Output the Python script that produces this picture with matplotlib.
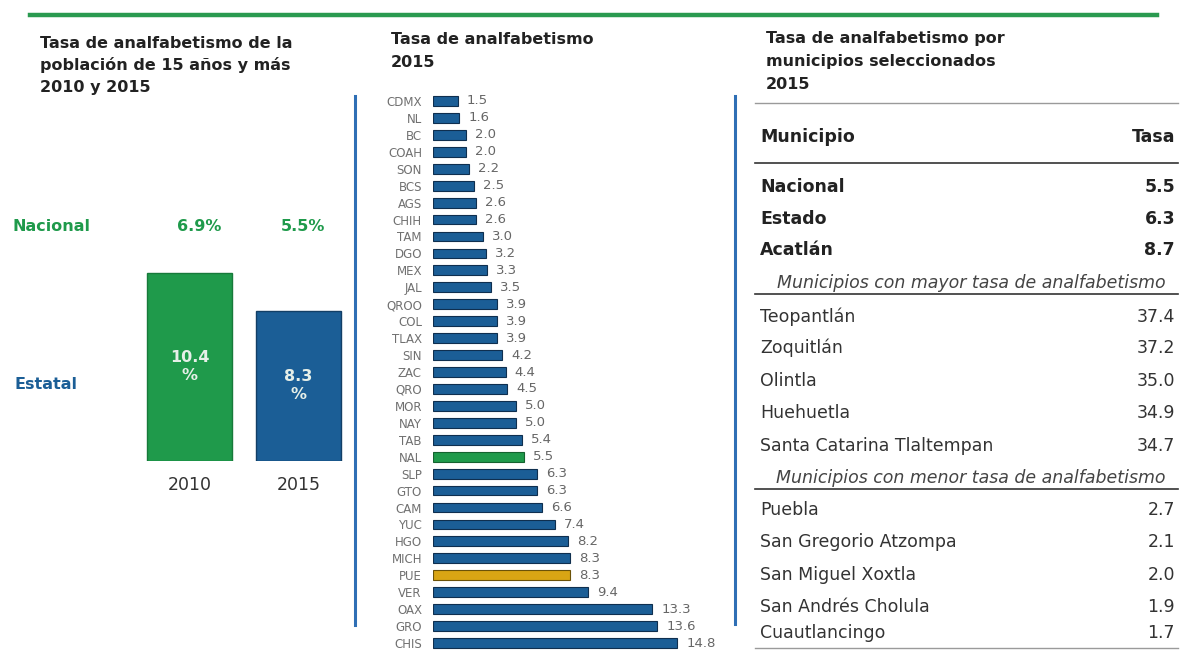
import numpy as np
import matplotlib
matplotlib.use('Agg')
import matplotlib.pyplot as plt
from matplotlib.lines import Line2D

plt.rcParams['font.family'] = ['DejaVu Sans']

# --- data -------------------------------------------------------------
years = ['2010', '2015']
estatal = [10.4, 8.3]
nacional = [6.9, 5.5]

states = ['CDMX', 'NL', 'BC', 'COAH', 'SON', 'BCS', 'AGS', 'CHIH', 'TAM', 'DGO',
          'MEX', 'JAL', 'QROO', 'COL', 'TLAX', 'SIN', 'ZAC', 'QRO', 'MOR', 'NAY',
          'TAB', 'NAL', 'SLP', 'GTO', 'CAM', 'YUC', 'HGO', 'MICH', 'PUE', 'VER',
          'OAX', 'GRO', 'CHIS']
state_rates = [1.5, 1.6, 2.0, 2.0, 2.2, 2.5, 2.6, 2.6, 3.0, 3.2,
               3.3, 3.5, 3.9, 3.9, 3.9, 4.2, 4.4, 4.5, 5.0, 5.0,
               5.4, 5.5, 6.3, 6.3, 6.6, 7.4, 8.2, 8.3, 8.3, 9.4,
               13.3, 13.6, 14.8]

ref_names = ['Nacional', 'Estado', 'Acatlán']
ref_rates = [5.5, 6.3, 8.7]
high_names = ['Teopantlán', 'Zoquitlán', 'Olintla', 'Huehuetla', 'Santa Catarina Tlaltempan']
high_rates = [37.4, 37.2, 35.0, 34.9, 34.7]
low_names = ['Puebla', 'San Gregorio Atzompa', 'San Miguel Xoxtla', 'San Andrés Cholula', 'Cuautlancingo']
low_rates = [2.7, 2.1, 2.0, 1.9, 1.7]

GREEN = '#1f9a4b'
BLUE = '#1b5e96'
GOLD = '#d9a514'
LINE_BLUE = '#2f6fb5'
DARK = '#222222'
TXT = '#333333'

W, H = 1185, 651
fig = plt.figure(figsize=(W / 100, H / 100), dpi=100)


def fx(x):
    return x / W


def fy(y):
    return 1 - y / H


def rect(left, top, right, bottom):
    return [fx(left), fy(bottom), (right - left) / W, (bottom - top) / H]


def hline(x0, x1, y, color, lw):
    fig.add_artist(Line2D([fx(x0), fx(x1)], [fy(y), fy(y)], color=color, lw=lw,
                          transform=fig.transFigure))


def vline(x, y0, y1, color, lw):
    fig.add_artist(Line2D([fx(x), fx(x)], [fy(y0), fy(y1)], color=color, lw=lw,
                          transform=fig.transFigure))


def text(x, y, s, **kw):
    kw.setdefault('va', 'baseline')
    return fig.text(fx(x), fy(y), s, **kw)


def title(x, baselines, lines):
    for y, s in zip(baselines, lines):
        text(x, y, s, fontsize=11.5, fontweight='bold', color=DARK)


# top rule and separators
hline(30, 1157, 15, '#2a9a50', 3.2)
vline(355, 96, 625, LINE_BLUE, 2.2)
vline(735, 96, 624, LINE_BLUE, 2.2)

# --- left panel: state vs national --------------------------------------
title(40, [48, 70, 92], ['Tasa de analfabetismo de la', 'población de 15 años y más', '2010 y 2015'])
text(12, 231, 'Nacional', fontsize=11.5, fontweight='bold', color=GREEN)
text(15, 389, 'Estatal', fontsize=11.5, fontweight='bold', color=BLUE)

ax1 = fig.add_axes(rect(130, 244, 360, 461))
xpos = np.arange(len(years))
bars = ax1.bar(xpos, estatal, width=0.78, color=[GREEN, BLUE],
               edgecolor=['#177a3a', '#123f66'], lw=1)
ax1.set_xlim(-0.546, 1.564)
ax1.set_ylim(0, 12)
for b, v in zip(bars, estatal):
    ax1.text(b.get_x() + b.get_width() / 2, v / 2, f'{v}\n%', ha='center', va='center',
             color='#e6efe8', fontsize=11.5, fontweight='bold', linespacing=1.25)
for x, v, dx in zip(xpos, nacional, [10, 4]):
    ax1.annotate(f'{v}%', (x, 12), xytext=(dx, 13), textcoords='offset pixels',
                 ha='center', va='baseline', color=GREEN, fontsize=11.5,
                 fontweight='bold', annotation_clip=False)
ax1.set_xticks(xpos, years)
ax1.tick_params(axis='x', length=0, pad=11, labelsize=12.5, labelcolor=TXT)
ax1.set_yticks([])
for s in ax1.spines.values():
    s.set_visible(False)

# --- middle panel: states ------------------------------------------------
title(391, [44, 67], ['Tasa de analfabetismo', '2015'])

ax2 = fig.add_axes(rect(433, 92.5, 720, 651.5))
ypos = np.arange(len(states))
colors = [GREEN if s == 'NAL' else GOLD if s == 'PUE' else BLUE for s in states]
edges = ['#14622f' if s == 'NAL' else '#6b5208' if s == 'PUE' else '#0f2f4f' for s in states]
ax2.barh(ypos, state_rates, height=0.58, color=colors, edgecolor=edges, lw=0.8)
ax2.set_xlim(0, 287 / 16.5)
ax2.set_ylim(len(states) - 0.5, -0.5)
for y, v in zip(ypos, state_rates):
    ax2.annotate(f'{v:.1f}', (v, y), xytext=(6.5, 0), textcoords='offset points',
                 va='center', ha='left', fontsize=9.5, color='#666666')
ax2.set_yticks(ypos, states)
ax2.tick_params(axis='y', length=0, pad=8, labelsize=8.5, labelcolor='#707070')
ax2.set_xticks([])
for s in ax2.spines.values():
    s.set_visible(False)

# --- right panel: municipalities table ----------------------------------
title(766, [43, 66, 89], ['Tasa de analfabetismo por', 'municipios seleccionados', '2015'])

TL, TR, TC = 760, 1175, 971
FS = 12.5
hline(755, 1178, 103, '#9a9a9a', 1.0)
text(TL, 142, 'Municipio', fontsize=FS, fontweight='bold', color=DARK)
text(TR, 142, 'Tasa', fontsize=FS, fontweight='bold', color=DARK, ha='right')
hline(755, 1178, 163, '#333333', 1.2)

for name, v, y in zip(ref_names, ref_rates, [192, 224, 255]):
    text(TL, y, name, fontsize=FS, fontweight='bold', color=DARK)
    text(TR, y, f'{v:.1f}', fontsize=FS, fontweight='bold', color=DARK, ha='right')

text(TC, 288, 'Municipios con mayor tasa de analfabetismo', fontsize=FS,
     style='italic', color='#444444', ha='center')
hline(755, 1178, 294, '#333333', 1.2)

for name, v, y in zip(high_names, high_rates, [322, 353, 386, 418, 451]):
    text(TL, y, name, fontsize=FS, color=TXT)
    text(TR, y, f'{v:.1f}', fontsize=FS, color=TXT, ha='right')

text(TC, 483, 'Municipios con menor tasa de analfabetismo', fontsize=FS,
     style='italic', color='#444444', ha='center')
hline(755, 1178, 489, '#333333', 1.2)

for name, v, y in zip(low_names, low_rates, [515, 547, 580, 612, 638]):
    text(TL, y, name, fontsize=FS, color=TXT)
    text(TR, y, f'{v:.1f}', fontsize=FS, color=TXT, ha='right')
hline(755, 1178, 648, '#9a9a9a', 1.0)

fig.savefig('out.png', dpi=100)
